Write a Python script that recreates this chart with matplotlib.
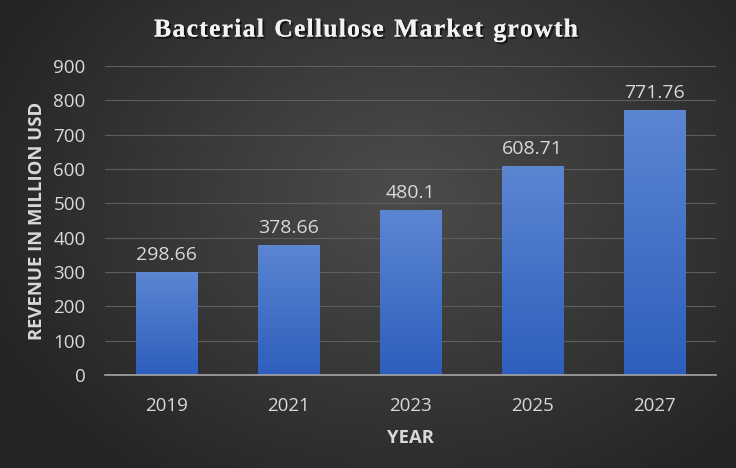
import numpy as np
import matplotlib
matplotlib.use("Agg")
import matplotlib.pyplot as plt
import matplotlib.patheffects as pe

years = ["2019", "2021", "2023", "2025", "2027"]
revenue = [298.66, 378.66, 480.1, 608.71, 771.76]
labels = ["298.66", "378.66", "480.1", "608.71", "771.76"]
yticks = [0, 100, 200, 300, 400, 500, 600, 700, 800, 900]
title = "Bacterial Cellulose Market growth"

W, H = 736, 468
fig = plt.figure(figsize=(W / 100, H / 100), dpi=100)

# radial gradient background
bg = fig.add_axes([0, 0, 1, 1], zorder=0)
yy, xx = np.mgrid[0:H, 0:W]
cx, cy = W * 0.55, H * 0.42
r = np.sqrt(((xx - cx) / (W * 0.62)) ** 2 + ((yy - cy) / (H * 0.75)) ** 2)
r = np.clip(r, 0, 1)
inner = np.array([0x4c, 0x4c, 0x4c]) / 255
outer = np.array([0x24, 0x24, 0x24]) / 255
img = inner[None, None, :] * (1 - r[..., None]) + outer[None, None, :] * r[..., None]
bg.imshow(img, aspect="auto", extent=[0, 1, 0, 1], origin="upper")
bg.set_axis_off()

ax = fig.add_axes([105 / W, 1 - 375 / H, 611 / W, (375 - 66) / H], zorder=1)
ax.patch.set_alpha(0)
x = np.arange(len(years))
bars = ax.bar(x, revenue, width=0.5, color="#4472c4", zorder=2)
ax.set_xlim(-0.5, len(years) - 0.5)
ax.set_ylim(0, 900)

# gradient fill in bars
grad = np.linspace(0, 1, 256)[:, None]
top = np.array([0x5c, 0x86, 0xd2]) / 255
bot = np.array([0x2e, 0x5e, 0xbd]) / 255
gimg = top[None, None, :] * (1 - grad[..., None]) + bot[None, None, :] * grad[..., None]
gimg = np.repeat(gimg, 2, axis=1)
for b in bars:
    bx, by, bw, bh = b.get_x(), b.get_y(), b.get_width(), b.get_height()
    b.set_facecolor("none")
    im = ax.imshow(gimg, extent=[bx, bx + bw, by, by + bh], aspect="auto",
                   origin="upper", zorder=2.5)
    im.set_clip_path(b)

for xi, v, lab in zip(x, revenue, labels):
    ax.text(xi, v + 24, lab, ha="center", va="bottom", color="#d9d9d9",
            fontsize=14, family="Open Sans")

ax.set_yticks(yticks)
ax.set_xticks(x)
ax.set_xticklabels(years)
ax.grid(axis="y", color="#5e5e5e", linewidth=0.8, zorder=1)
ax.set_axisbelow(True)
for s in ["top", "right", "left"]:
    ax.spines[s].set_visible(False)
ax.spines["bottom"].set_color("#a6a6a6")
ax.spines["bottom"].set_linewidth(1.2)
ax.tick_params(axis="both", length=0, colors="#d9d9d9", labelsize=13.5)
ax.tick_params(axis="y", pad=14)
ax.tick_params(axis="x", pad=16)
for t in ax.get_xticklabels() + ax.get_yticklabels():
    t.set_family("Open Sans")

ax.set_ylabel("REVENUE IN MILLION USD", color="#d9d9d9", fontsize=13.3,
              fontweight="bold", family="Open Sans", labelpad=5)
ax.set_xlabel("YEAR", color="#d9d9d9", fontsize=13.3, fontweight="bold",
              family="Open Sans", labelpad=10)

# title with letter spacing, drawn character by character
fig.canvas.draw()
renderer = fig.canvas.get_renderer()
tkw = dict(color="#f2f2f2", fontsize=18.5, fontweight="bold",
           family="Liberation Serif", va="center", ha="left",
           path_effects=[pe.withSimplePatchShadow(offset=(1.5, -1.5),
                                                  shadow_rgbFace="black", alpha=0.6),
                         pe.Normal()])
track = 1.2
widths = []
for ch in title:
    t = fig.text(0, 0, ch if ch != " " else "n", **tkw)
    bb = t.get_window_extent(renderer)
    widths.append(bb.width * (0.55 if ch == " " else 1.0))
    t.remove()
total = sum(widths) + track * (len(title) - 1)
xpos = 366 - total / 2
for ch, w in zip(title, widths):
    if ch != " ":
        fig.text(xpos / W, 1 - 30 / H, ch, **tkw)
    xpos += w + track

fig.savefig("out.png", dpi=100)
